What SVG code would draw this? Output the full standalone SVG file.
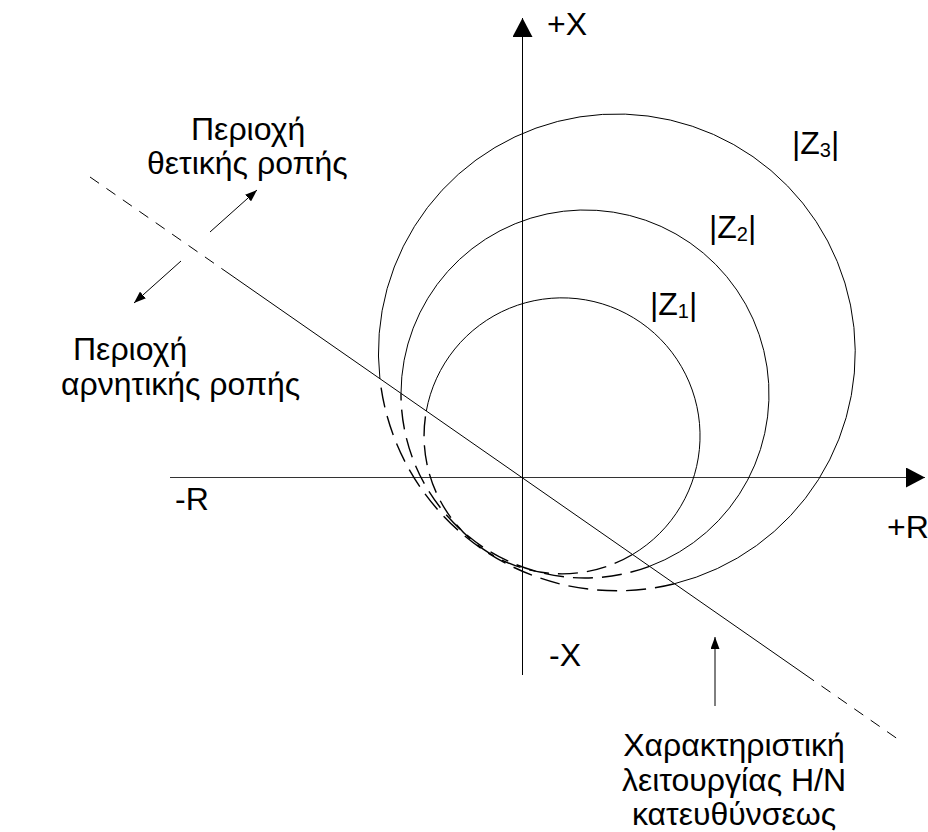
<svg xmlns="http://www.w3.org/2000/svg" width="928" height="832" viewBox="0 0 928 832">
<style>
.t{font-family:"Liberation Sans",Arial,sans-serif;font-size:32px;fill:#000}
.c{text-anchor:middle}
.ln{fill:none;stroke:#000;stroke-width:1}
.ds{fill:none;stroke:#000;stroke-width:1.4;stroke-dasharray:20 9}
.dl{fill:none;stroke:#000;stroke-width:1;stroke-dasharray:11 9}
</style>
<defs>
<marker id="big" markerUnits="userSpaceOnUse" markerWidth="20" markerHeight="20" refX="19" refY="10" orient="auto">
<path d="M0,0 L19,10 L0,20 z" fill="#000"/>
</marker>
<marker id="sm" markerUnits="userSpaceOnUse" markerWidth="13" markerHeight="9" refX="12" refY="4.5" orient="auto">
<path d="M0,0 L12,4.5 L0,9 z" fill="#000"/>
</marker>
</defs>
<rect width="928" height="832" fill="#fff"/>
<g id="connectors">
<line id="axis-x" x1="170" y1="477.5" x2="925" y2="477.5" stroke="#333" stroke-width="1.2" marker-end="url(#big)"/>
<line id="axis-y" x1="522.5" y1="675" x2="522.5" y2="18" class="ln" marker-end="url(#big)"/>
<line id="char-solid" x1="225" y1="270.9" x2="805" y2="674.5" class="ln"/>
<line id="char-dash-l" x1="90" y1="177" x2="225" y2="270.9" class="dl"/>
<line id="char-dash-r" x1="805" y1="674.5" x2="902" y2="742" class="dl"/>
<line id="arrow-pos" x1="210" y1="232" x2="257" y2="190" class="ln" marker-end="url(#sm)"/>
<line id="arrow-neg" x1="181" y1="261" x2="134" y2="303" class="ln" marker-end="url(#sm)"/>
<line id="arrow-char" x1="715" y1="706" x2="715" y2="637" class="ln" marker-end="url(#sm)"/>
</g>
<g id="circle-z1">
<path class="ln" d="M426.3,411 A138,138 0 1 1 632.5,554.5"/>
<path class="ds" d="M632.5,554.5 A138,138 0 0 1 426.3,411"/>
<text class="t" x="650" y="315">|Z<tspan font-size="20" dy="3">1</tspan><tspan dy="-3">|</tspan></text>
</g>
<g id="circle-z2">
<path class="ln" d="M401,393.4 A184,184 0 1 1 649.5,566.3"/>
<path class="ds" d="M649.5,566.3 A184,184 0 0 1 401,393.4"/>
<text class="t" x="709" y="238">|Z<tspan font-size="20" dy="3">2</tspan><tspan dy="-3">|</tspan></text>
</g>
<g id="circle-z3">
<path class="ln" d="M379.9,378.7 A238.4,238.4 0 1 1 674.5,583.7"/>
<path class="ds" d="M674.5,583.7 A238.4,238.4 0 0 1 379.9,378.7"/>
<text class="t" x="792" y="154">|Z<tspan font-size="20" dy="3">3</tspan><tspan dy="-3">|</tspan></text>
</g>
<g id="labels-axes">
<text class="t" x="547" y="35">+X</text>
<text class="t" x="549" y="666">-X</text>
<text class="t" x="175" y="510">-R</text>
<text class="t" x="887" y="538">+R</text>
</g>
<g id="label-positive">
<text class="t" x="191" y="140">Περιοχή</text>
<text class="t" x="147" y="174">θετικής ροπής</text>
</g>
<g id="label-negative">
<text class="t" x="73" y="360">Περιοχή</text>
<text class="t" x="61" y="395">αρνητικής ροπής</text>
</g>
<g id="label-characteristic">
<text class="t c" x="734" y="756">Χαρακτηριστική</text>
<text class="t c" x="734" y="791">λειτουργίας Η/Ν</text>
<text class="t c" x="734" y="825">κατευθύνσεως</text>
</g>
</svg>
